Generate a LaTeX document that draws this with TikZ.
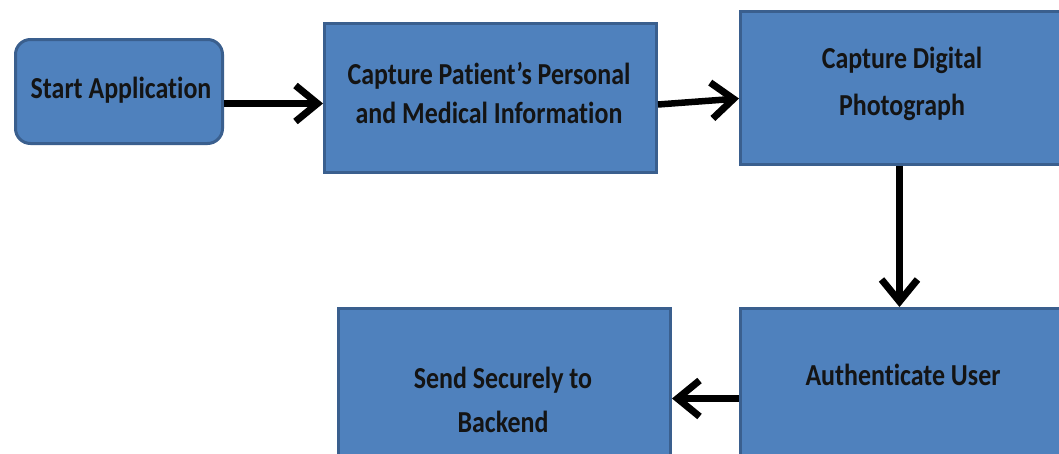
\documentclass[tikz,border=0pt]{standalone}
\usepackage{fontspec}
\setmainfont{Carlito}[FakeStretch=0.85, Ligatures=NoCommon]
\usetikzlibrary{arrows.meta,calc}
\definecolor{boxfill}{HTML}{4F81BD}
\definecolor{boxline}{HTML}{3A5F8E}
\definecolor{txt}{HTML}{141414}
\tikzset{
  box/.style={draw=boxline, line width=3pt, fill=boxfill, anchor=north west, inner sep=0pt},
  lbl/.style={anchor=base, text=txt, inner sep=0pt,
    font=\fontsize{30.5}{39}\selectfont\bfseries},
  flow/.style={line width=6.5pt, -{Straight Barb[length=22pt,width=36pt,line width=7pt]}}
}
\begin{document}
\begin{tikzpicture}[x=1pt,y=-1pt]
\useasboundingbox (0,0) rectangle (1059,453);
\fill[white] (0,0) rectangle (1059,453);
\clip (0,0) rectangle (1059,453);
\node[box, rounded corners=15pt, minimum width=207pt, minimum height=104pt] (s) at (14,38) {};
\node[box, minimum width=332pt, minimum height=149pt] (p) at (323,22) {};
\node[box, minimum width=326pt, minimum height=153pt] (d) at (739,10) {};
\node[box, minimum width=326pt, minimum height=152pt] (a) at (739,307) {};
\node[box, minimum width=332pt, minimum height=152pt] (b) at (337,307) {};
\node[lbl] (s1) at (121,98) {Start Application};
\node[lbl] (p1) at (489,84) {Capture Patient’s Personal};
\node[lbl] (p2) at (489,123) {and Medical Information};
\node[lbl] (d1) at (902,68) {Capture Digital};
\node[lbl] (d2) at (902,115) {Photograph};
\node[lbl] (a1) at (903,385) {Authenticate User};
\node[lbl] (b1) at (503,388) {Send Securely to};
\node[lbl] (b2) at (503,432) {Backend};
\draw[flow] ([yshift=-12pt]s.east) -- ([yshift=-5.5pt]p.west);
\draw[flow] ([yshift=-6.5pt]p.east) -- ([yshift=-10.5pt]d.west);
\draw[flow] ([xshift=-4pt]d.south) -- ([xshift=-4pt]a.north);
\draw[flow] ([yshift=-14pt]a.west) -- ([yshift=-14pt]b.east);
\end{tikzpicture}
\end{document}
